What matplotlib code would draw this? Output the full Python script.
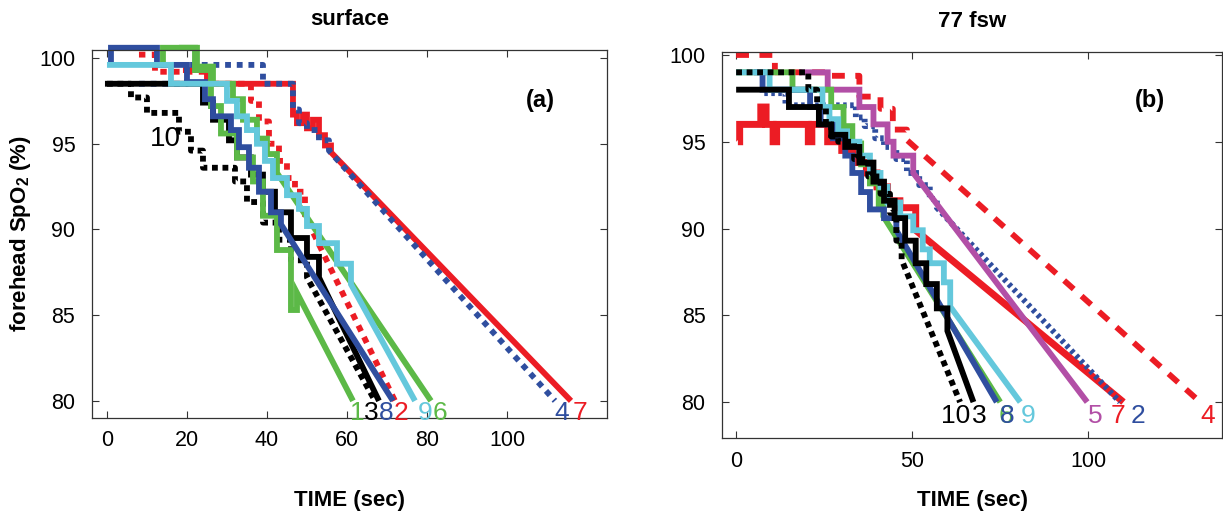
import numpy as np
import matplotlib.pyplot as plt
from matplotlib import font_manager

# SpO2 desaturation traces during breath-hold, surface vs 77 fsw.
# Each subject: step times (s), step SpO2 values (%), and the time at which
# the fitted line reaches 80 %.

# ---- (a) surface ----
a1_t = [13.5, 14, 22, 26, 28.5, 32.5, 36.5, 39, 42.5, 46, 47.5]
a1_v = [99.6, 100.6, 99.3, 97.2, 95.6, 94.2, 92.8, 90.8, 88.8, 85.3, 86.3]
a1_end = 61.5
a2_t = [8, 12, 20, 26, 36, 38, 40.5, 43, 45, 47, 49.5]
a2_v = [100.2, 99.2, 99.2, 98.5, 97.5, 96.3, 95, 94, 93, 92.2, 90.8]
a2_end = 72
a3_t = [-0.5, 24, 26.5, 30.5, 32.5, 36, 39, 42, 46, 50, 53]
a3_v = [98.5, 97.4, 96.4, 95.2, 94.2, 93.2, 92.2, 91, 89.5, 88.4, 87.2]
a3_end = 68
a4_t = [8, 20, 39, 46.5, 48, 50, 53, 55.5]
a4_v = [98.5, 99.6, 98.5, 97, 96.2, 95.8, 95.2, 94.6]
a4_end = 112
a6_t = [18, 22.5, 26.5, 31.5, 34, 37.5, 40, 42.5]
a6_v = [100.6, 99.5, 98.5, 97.6, 96.4, 95.3, 94.4, 93.3]
a6_end = 81
a7_t = [19, 25, 46.5, 47.5, 49, 50, 51.5, 53, 54.5, 56]
a7_v = [99.3, 98.5, 96.7, 96.2, 96.7, 95.9, 96.4, 95.5, 94.9, 94.5]
a7_end = 116
a8_t = [1, 1, 12.5, 20, 24.5, 26.5, 31, 33, 35.5, 38, 41, 43.5]
a8_v = [99.6, 100.6, 99.6, 98.6, 97.6, 96.6, 95.8, 94.8, 93.6, 92.2, 91, 90.3]
a8_end = 71.5
a9_t = [0, 16, 30, 32.5, 35, 37.5, 39.5, 41.5, 45, 48, 50, 53, 57.5, 61]
a9_v = [99.6, 98.5, 97.5, 96.6, 95.8, 95, 94, 93, 92, 91.2, 90.2, 89.2, 88, 86.8]
a9_end = 77
a10_t = [0, 6, 10, 18, 21, 24, 32, 35, 39, 43, 46, 50]
a10_v = [98.5, 97.7, 96.8, 95.7, 94.6, 93.6, 92.8, 91.6, 90.4, 89.4, 88.2, 87.2]
a10_end = 67

# ---- (b) 77 fsw ----
b2_t = [8, 14, 34, 36.5, 39.5, 42, 45.5, 48.5, 52, 55, 57]
b2_v = [97.8, 97.1, 96.4, 95.9, 95.2, 94.7, 94, 93.2, 92.5, 91.7, 91.2]
b2_end = 109
b3_t = [0, 15, 23.5, 27, 31, 35, 39, 42, 45, 48, 51, 54, 57, 60]
b3_v = [98, 97, 96, 95.4, 94.7, 93.8, 92.7, 91.6, 90.6, 89.3, 88, 86.8, 85.4, 84.1]
b3_end = 67.4
b4_t = [0, 11, 26, 35, 41, 44.5, 48.5]
b4_v = [100, 99, 98.8, 97.6, 96.9, 95.7, 95.1]
b4_end = 131.8
b5_t = [18, 26, 35, 39, 43, 44.7, 50.3]
b5_v = [99, 98, 97, 96, 95, 94.2, 93.2]
b5_end = 99.7
b6_t = [0, 16, 27, 30.5, 33, 35.5, 38, 40.5, 41.8]
b6_v = [99, 98, 97, 95.9, 94.9, 93.7, 92.6, 91.4, 90.7]
b6_end = 75
b7_t = [0.5, 1, 7, 8.5, 10.5, 11.5, 20.5, 21.5, 26, 30, 34, 37, 40, 43, 46.5, 51]
b7_v = [95, 96, 97, 96, 95, 96, 95, 96, 95, 94.5, 93.8, 93.2, 92.4, 91.6, 91.2, 89.9]
b7_end = 110
b8_t = [5, 7.5, 21, 24, 27.5, 31, 33, 35.5, 38, 42, 45.5]
b8_v = [99, 98, 97, 96, 95.2, 94.2, 93.2, 92.1, 91.1, 90.6, 89.9]
b8_end = 74
b9_t = [0, 9.5, 24.5, 26.5, 29, 31.5, 35, 38, 41, 43, 46.6, 50.3, 53, 55, 59, 60.8]
b9_v = [99, 98, 97, 96.3, 95.6, 95, 94.2, 93.2, 92.4, 91.5, 90.7, 89.9, 88.8, 88, 86.9, 85.5]
b9_end = 80.7
b10_t = [0, 20.5, 23, 25.5, 27, 29, 33.5, 37.5, 41, 43.7, 45.5, 47]
b10_v = [99, 98, 97, 96, 95.3, 95, 94, 93, 92, 90.9, 89.3, 88.2]
b10_end = 63.6

# subject labels under the line ends (x position in seconds)
a_lab = ['1', '3', '8', '2', '9', '6', '4', '7']
a_lab_x = [62.6, 66.2, 69.8, 73.5, 79.6, 83.3, 113.8, 118.2]
b_lab = ['6', '10', '3', '8', '9', '5', '7', '2', '4']
b_lab_x = [76.6, 62.2, 69.0, 77, 83, 102, 108.5, 114, 134]

RED = '#ec1c24'
BLUE = '#2f4e9f'
GREEN = '#5cb947'
CYAN = '#64c8dc'
MAG = '#b24fa6'
BLACK = '#000000'

names = {f.name for f in font_manager.fontManager.ttflist}
face = 'Liberation Sans Narrow' if 'Liberation Sans Narrow' in names else 'Liberation Sans'
plt.rcParams['font.family'] = [face, 'DejaVu Sans']
plt.rcParams['mathtext.fontset'] = 'custom'
plt.rcParams['mathtext.rm'] = face
plt.rcParams['mathtext.bf'] = face + ':bold'

LW = 4.2


def trace(ax, t, v, t_end, color, dashes=None, lw=LW):
    # staircase of the recorded values, then the fit down to 80 %
    x = np.append(np.repeat(t, 2)[1:], t_end)
    y = np.append(np.repeat(v, 2)[:-1], 80)
    kw = dict(color=color, lw=lw, solid_joinstyle='miter', solid_capstyle='butt',
              dash_capstyle='butt', clip_on=False)
    if dashes is not None:
        kw['dashes'] = dashes
    ax.plot(x, y, **kw)


fig = plt.figure(figsize=(12.23, 5.17), dpi=100)
axA = fig.add_axes([0.0752, 0.1915, 0.4211, 0.7118])
axB = fig.add_axes([0.5904, 0.1528, 0.4088, 0.7466])

# surface
trace(axA, a7_t, a7_v, a7_end, RED)
trace(axA, a4_t, a4_v, a4_end, BLUE, dashes=(1, 1))
trace(axA, a2_t, a2_v, a2_end, RED, dashes=(1.1, 1.1))
trace(axA, a10_t, a10_v, a10_end, BLACK, dashes=(1, 0.8))
trace(axA, a3_t, a3_v, a3_end, BLACK)
trace(axA, a6_t, a6_v, a6_end, GREEN)
trace(axA, a1_t, a1_v, a1_end, GREEN)
trace(axA, a8_t, a8_v, a8_end, BLUE)
trace(axA, a9_t, a9_v, a9_end, CYAN)

# 77 fsw
trace(axB, b7_t, b7_v, b7_end, RED, lw=5)
trace(axB, b4_t, b4_v, b4_end, RED, dashes=(2.2, 1.8))
trace(axB, b2_t, b2_v, b2_end, BLUE, dashes=(0.6, 0.6))
trace(axB, b5_t, b5_v, b5_end, MAG)
trace(axB, b6_t, b6_v, b6_end, GREEN)
trace(axB, b8_t, b8_v, b8_end, BLUE)
trace(axB, b9_t, b9_v, b9_end, CYAN)
trace(axB, b3_t, b3_v, b3_end, BLACK)
trace(axB, b10_t, b10_v, b10_end, BLACK, dashes=(1, 0.8))

a_col = {'1': GREEN, '2': RED, '3': BLACK, '4': BLUE, '6': GREEN, '7': RED,
         '8': BLUE, '9': CYAN, '10': BLACK}
b_col = {'2': BLUE, '3': BLACK, '4': RED, '5': MAG, '6': GREEN, '7': RED,
         '8': BLUE, '9': CYAN, '10': BLACK}

for s, x in zip(a_lab, a_lab_x):
    axA.text(x, 79.3, s, color=a_col[s], fontsize=19, ha='center', va='center', clip_on=False)
for s, x in zip(b_lab, b_lab_x):
    axB.text(x, 79.2, s, color=b_col[s], fontsize=19, ha='center', va='center', clip_on=False)
axA.text(14.5, 95.3, '10', color=BLACK, fontsize=20, ha='center', va='center')

axA.text(108.25, 97.55, '(a)', fontsize=17, fontweight='bold', ha='center', va='center')
axB.text(117.6, 97.4, '(b)', fontsize=17, fontweight='bold', ha='center', va='center')

axA.set_xlim(-3.75, 125)
axA.set_ylim(79.0, 100.47)
axA.set_xticks([0, 20, 40, 60, 80, 100])
axB.set_xlim(-4, 138)
axB.set_ylim(77.93, 100.17)
axB.set_xticks([0, 50, 100])

for ax, title in ((axA, 'surface'), (axB, '77 fsw')):
    ax.set_yticks([80, 85, 90, 95, 100])
    ax.tick_params(direction='in', top=True, right=True, length=5, width=0.8,
                   labelsize=15.5, color='#333333')
    ax.tick_params(axis='y', pad=12)
    ax.tick_params(axis='x', pad=9)
    for sp in ax.spines.values():
        sp.set_linewidth(0.9)
        sp.set_color('#333333')
    ax.set_xlabel('TIME (sec)', fontsize=16, fontweight='bold')
    ax.set_title(title, fontsize=16, fontweight='bold', pad=18)

# both x labels sit on the same line of the figure
axA.xaxis.set_label_coords(0.5, -0.196)
axB.xaxis.set_label_coords(0.5, -0.135)

axA.set_ylabel('forehead SpO$_\\mathbf{2}$ (%)', fontsize=16, fontweight='bold')
axA.yaxis.set_label_coords(-0.115, 0.5)

fig.savefig('out.png', dpi=100)
